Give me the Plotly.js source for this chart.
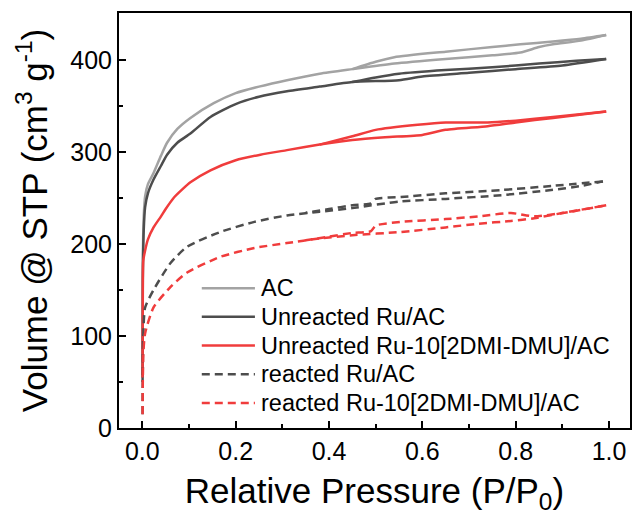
<!DOCTYPE html>
<html>
<head>
<meta charset="utf-8">
<script src="https://cdn.plot.ly/plotly-3.0.1.min.js"></script>
<style>html,body{margin:0;padding:0;background:#fff;}#chart{width:635px;height:519px;}</style>
</head>
<body>
<div id="chart"></div>
<script>
// Series names
const seriesNames = ["AC", "Unreacted Ru/AC", "Unreacted Ru-10[2DMI-DMU]/AC", "reacted Ru/AC", "reacted Ru-10[2DMI-DMU]/AC"];

// AC (adsorption / desorption branches)
const acAdsP = [0.0005, 0.001, 0.003, 0.006, 0.012, 0.024, 0.04, 0.053, 0.075, 0.103, 0.153, 0.2, 0.25, 0.31, 0.38, 0.45, 0.54, 0.65, 0.75, 0.81, 0.85, 0.88, 0.94, 0.994];
const acAdsV = [55, 180, 230, 252, 265, 277, 296, 310, 325, 337, 353, 364, 371, 378, 385, 390, 396, 401, 405, 408, 414, 417, 421, 427];
const acDesP = [0.994, 0.94, 0.88, 0.81, 0.75, 0.65, 0.54, 0.50, 0.45];
const acDesV = [427, 423, 420, 417, 414, 409, 403, 398, 390];

// Unreacted Ru/AC
const ruAdsP = [0.0005, 0.001, 0.003, 0.006, 0.012, 0.024, 0.04, 0.053, 0.075, 0.103, 0.146, 0.2, 0.25, 0.31, 0.38, 0.45, 0.55, 0.6, 0.7, 0.8, 0.9, 0.994];
const ruAdsV = [50, 160, 215, 240, 255, 270, 285, 297, 310, 320, 338, 352, 360, 366, 371, 376, 378, 382, 386, 390, 394, 401];
const ruDesP = [0.994, 0.93, 0.85, 0.75, 0.65, 0.55, 0.50, 0.45];
const ruDesV = [401, 399, 396, 392, 389, 385, 381, 376];

// Unreacted Ru-10[2DMI-DMU]/AC
const ru10AdsP = [0.0005, 0.001, 0.002, 0.006, 0.012, 0.024, 0.04, 0.05, 0.067, 0.085, 0.103, 0.146, 0.2, 0.253, 0.31, 0.38, 0.45, 0.52, 0.60, 0.65, 0.74, 0.80, 0.88, 0.994];
const ru10AdsV = [55, 150, 182, 193, 205, 218, 230, 238, 250, 259, 267, 280, 291, 297, 302, 308, 313, 316, 318.5, 324, 328, 332, 337, 344];
const ru10DesP = [0.994, 0.88, 0.80, 0.74, 0.65, 0.59, 0.50, 0.45, 0.38];
const ru10DesV = [344, 338, 334, 332, 332, 329.5, 324, 317, 308];

// reacted Ru/AC
const rRuAdsP = [0.0005, 0.002, 0.006, 0.024, 0.06, 0.096, 0.167, 0.24, 0.31, 0.38, 0.45, 0.55, 0.65, 0.77, 0.876, 0.94, 0.987];
const rRuAdsV = [15, 100, 131, 150, 179, 197, 213, 224, 231, 235, 239, 246, 249, 253, 258.6, 263, 268];
const rRuDesP = [0.987, 0.876, 0.77, 0.65, 0.554, 0.50, 0.49, 0.45, 0.40, 0.35];
const rRuDesV = [268, 263, 258.6, 255, 251, 249, 244, 242, 238, 234];

// reacted Ru-10[2DMI-DMU]/AC
const rRu10AdsP = [0.0005, 0.002, 0.006, 0.024, 0.06, 0.096, 0.167, 0.24, 0.31, 0.38, 0.45, 0.554, 0.65, 0.72, 0.79, 0.84, 0.90, 0.994];
const rRu10AdsV = [15, 80, 103, 131, 153, 169, 186, 195.6, 201, 206, 209.5, 213, 218, 222, 225, 228, 233.6, 242];
const rRu10DesP = [0.994, 0.90, 0.84, 0.79, 0.72, 0.65, 0.554, 0.50, 0.49, 0.45, 0.40, 0.35];
const rRu10DesV = [242, 233.6, 230, 233.6, 230, 227, 224, 220, 214, 212, 208, 204];

// Ticks
const xTickVals = [0, 0.2, 0.4, 0.6, 0.8, 1.0];
const xTickText = ["0.0", "0.2", "0.4", "0.6", "0.8", "1.0"];
const yTickVals = [0, 100, 200, 300, 400];
const yTickText = ["0", "100", "200", "300", "400"];

const FONT = "Liberation Sans, Arial, sans-serif";

const styles = [
  { color: "#a3a3a3", dash: "solid" },
  { color: "#4d4d4d", dash: "solid" },
  { color: "#f03c3c", dash: "solid" },
  { color: "#4d4d4d", dash: "8px,5px" },
  { color: "#f03c3c", dash: "8px,5px" }
];

const branches = [
  [acAdsP, acAdsV, acDesP, acDesV],
  [ruAdsP, ruAdsV, ruDesP, ruDesV],
  [ru10AdsP, ru10AdsV, ru10DesP, ru10DesV],
  [rRuAdsP, rRuAdsV, rRuDesP, rRuDesV],
  [rRu10AdsP, rRu10AdsV, rRu10DesP, rRu10DesV]
];

const traces = [];
branches.forEach((b, i) => {
  const line = { color: styles[i].color, width: 2.5, dash: styles[i].dash, shape: "spline", smoothing: 0.6 };
  traces.push({ type: "scatter", mode: "lines", name: seriesNames[i], legendgroup: "g" + i, x: b[0], y: b[1], line: line, showlegend: false });
  traces.push({ type: "scatter", mode: "lines", name: seriesNames[i], legendgroup: "g" + i, x: b[2], y: b[3], line: line, showlegend: false });
});

// Legend drawn in paper coordinates (plot area: 511 x 415 px)
const legX0 = 0.162, legX1 = 0.266, legTextX = 0.274;
const legTopY = 0.337, legStep = 0.0692;
const shapes = [];
const annotations = [];
seriesNames.forEach((name, i) => {
  const yy = legTopY - i * legStep;
  shapes.push({ type: "line", xref: "paper", yref: "paper", x0: legX0, x1: legX1, y0: yy, y1: yy,
    line: { color: styles[i].color, width: 2.5, dash: styles[i].dash } });
  annotations.push({ xref: "paper", yref: "paper", x: legTextX, y: yy, xanchor: "left", yanchor: "middle",
    text: name, showarrow: false, font: { size: 23.5, family: FONT, color: "#000" } });
});

const layout = {
  width: 635,
  height: 519,
  margin: { l: 119, r: 5, t: 13, b: 91 },
  paper_bgcolor: "#fff",
  plot_bgcolor: "#fff",
  font: { family: FONT, color: "#000" },
  showlegend: false,
  shapes: shapes,
  annotations: annotations,
  xaxis: {
    range: [-0.05, 1.045],
    tickvals: xTickVals,
    ticktext: xTickText,
    ticks: "inside",
    ticklen: 7,
    tickwidth: 2,
    tickcolor: "#000",
    showline: true,
    linewidth: 2,
    linecolor: "#000",
    mirror: true,
    showgrid: false,
    zeroline: false,
    tickfont: { size: 25, family: FONT, color: "#000" },
    minor: { dtick: 0.1, tick0: 0, ticks: "inside", ticklen: 4, tickwidth: 2, tickcolor: "#000", showgrid: false },
    title: { text: "Relative Pressure (P/P<sub>0</sub>)", font: { size: 35, family: FONT, color: "#000" }, standoff: 14 }
  },
  yaxis: {
    range: [0, 451],
    tickvals: yTickVals,
    ticktext: yTickText,
    ticks: "inside",
    ticklen: 7,
    tickwidth: 2,
    tickcolor: "#000",
    showline: true,
    linewidth: 2,
    linecolor: "#000",
    mirror: true,
    showgrid: false,
    zeroline: false,
    tickfont: { size: 25, family: FONT, color: "#000" },
    minor: { dtick: 50, tick0: 0, ticks: "inside", ticklen: 4, tickwidth: 2, tickcolor: "#000", showgrid: false },
    title: { text: "Volume @ STP (cm<sup>3</sup> g<sup>-1</sup>)", font: { size: 35, family: FONT, color: "#000" }, standoff: 12 }
  }
};

Plotly.newPlot("chart", traces, layout, { staticPlot: true, displayModeBar: false });
</script>
</body>
</html>
